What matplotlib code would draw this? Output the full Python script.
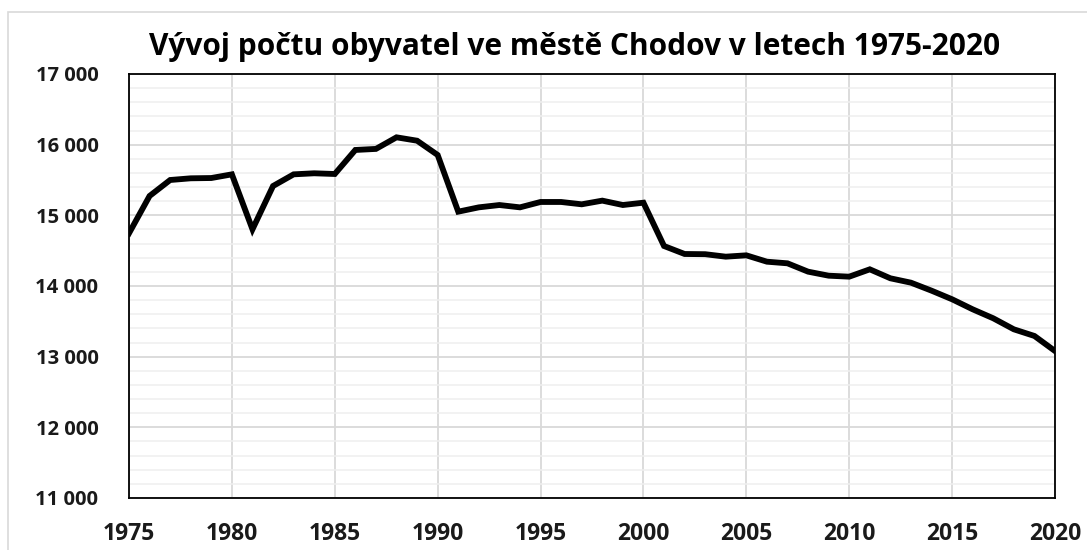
import matplotlib.pyplot as plt
from matplotlib.patches import Rectangle
from matplotlib.ticker import FuncFormatter, MultipleLocator

# population of Chodov, 1975-2020
years = list(range(1975, 2021))
population = [
    14746, 15274, 15500, 15524, 15528, 15580, 14802, 15415, 15580, 15595,
    15585, 15925, 15940, 16104, 16056, 15854, 15052, 15113, 15146, 15113,
    15189, 15189, 15156, 15208, 15146, 15179, 14566, 14453, 14450, 14415,
    14434, 14344, 14321, 14203, 14146, 14132, 14236, 14109, 14047, 13934,
    13812, 13670, 13543, 13387, 13293, 13080,
]
x_ticks = [1975, 1980, 1985, 1990, 1995, 2000, 2005, 2010, 2015, 2020]
title = "Vývoj počtu obyvatel ve městě Chodov v letech 1975-2020"

plt.rcParams['font.family'] = ['Open Sans', 'DejaVu Sans']
plt.rcParams['font.weight'] = 'bold'

fig = plt.figure(figsize=(10.87, 5.5), dpi=100)
ax = fig.add_axes([129 / 1087, 1 - 498 / 550, (1055 - 129) / 1087, (498 - 74) / 550])

# light frame around the chart (runs off the right and bottom edges)
fig.patches.append(Rectangle((8 / 1087, -0.01), 1.1, 1 - 12 / 550 + 0.01,
                             transform=fig.transFigure, fill=False,
                             edgecolor='#d9d9d9', linewidth=1.2))

ax.plot(years, population, color='black', linewidth=4.2, solid_joinstyle='miter', zorder=3)

ax.set_xlim(1975, 2020)
ax.set_ylim(11000, 17000)
ax.set_xticks(x_ticks)
ax.yaxis.set_major_locator(MultipleLocator(1000))
ax.yaxis.set_minor_locator(MultipleLocator(200))
ax.yaxis.set_major_formatter(FuncFormatter(lambda v, p: f"{int(v):,}".replace(",", " ")))

ax.grid(axis='x', which='major', color='#d9d9d9', linewidth=1.3)
ax.grid(axis='y', which='major', color='#d9d9d9', linewidth=1.3)
ax.grid(axis='y', which='minor', color='#efefef', linewidth=1.1)
ax.set_axisbelow(True)

for s in ax.spines.values():
    s.set_color('black')
    s.set_linewidth(1.3)

ax.tick_params(axis='both', which='both', length=0, labelcolor='#1a1a1a')
ax.tick_params(axis='y', labelsize=14.5, pad=22)
ax.tick_params(axis='x', labelsize=16.5, pad=17)

fig.text(0.529, 1 - 47 / 550, title, ha='center', va='center',
         fontsize=21.5, fontweight='bold', color='black')

fig.savefig('out.png', dpi=100)
